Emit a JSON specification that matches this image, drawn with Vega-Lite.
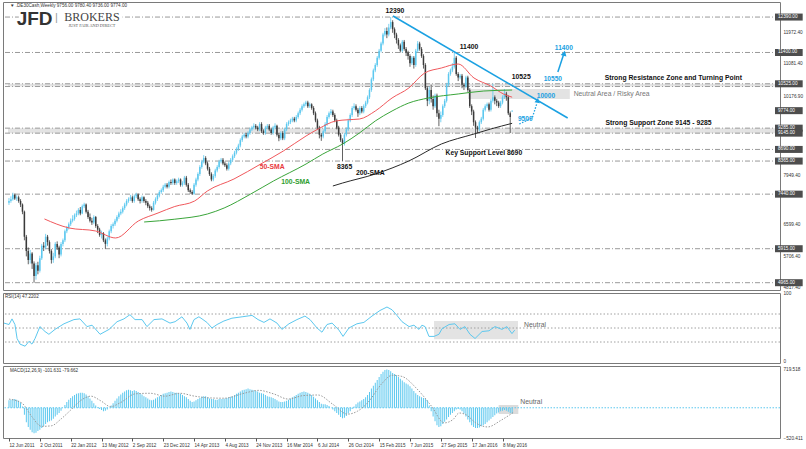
{
"$schema":"https://vega.github.io/schema/vega-lite/v6.json",
"background":"white",
"padding":{"left":1,"top":1,"right":0,"bottom":0},
"spacing":3,
"bounds":"flush",
"config":{"view":{"stroke":"#7a7a7a","strokeWidth":1},"font":"Liberation Sans","text":{"font":"Liberation Sans"},"axis":{"grid":false,"ticks":false,"domain":false,"labelFontSize":4.7,"labelColor":"#333","labelPadding":3,"labelOverlap":false,"labelBound":false,"labelFlush":false}},
"datasets":{
"bars":[
{"w":0,"o":7200,"h":7330,"l":7140,"c":7250,"m":130},{"w":1,"o":7250,"h":7380,"l":7200,"c":7300,"m":140},{"w":2,"o":7300,"h":7480,"l":7260,"c":7420,"m":150},{"w":3,"o":7420,"h":7460,"l":7280,"c":7320,"m":150},{"w":4,"o":7320,"h":7410,"l":7250,"c":7350,"m":140},{"w":5,"o":7350,"h":7400,"l":7200,"c":7250,"m":120},{"w":6,"o":7250,"h":7300,"l":7080,"c":7150,"m":90},{"w":7,"o":7150,"h":7180,"l":6880,"c":6950,"m":20},{"w":8,"o":6950,"h":6980,"l":6150,"c":6250,"m":-120},{"w":9,"o":6250,"h":6300,"l":5700,"c":5850,"m":-250},
{"w":10,"o":5850,"h":5950,"l":5480,"c":5600,"m":-330},{"w":11,"o":5600,"h":5880,"l":5500,"c":5780,"m":-380},{"w":12,"o":5780,"h":5820,"l":5350,"c":5500,"m":-420},{"w":13,"o":5500,"h":5560,"l":4965,"c":5150,"m":-440},{"w":14,"o":5150,"h":5520,"l":5050,"c":5450,"m":-430},{"w":15,"o":5450,"h":5550,"l":5200,"c":5300,"m":-400},{"w":16,"o":5300,"h":5720,"l":5250,"c":5650,"m":-380},{"w":17,"o":5650,"h":6050,"l":5600,"c":6000,"m":-350},{"w":18,"o":6000,"h":6100,"l":5850,"c":5950,"m":-320},{"w":19,"o":5950,"h":6330,"l":5900,"c":6250,"m":-280},
{"w":20,"o":6250,"h":6300,"l":6000,"c":6100,"m":-250},{"w":21,"o":6100,"h":6150,"l":5780,"c":5850,"m":-230},{"w":22,"o":5850,"h":5900,"l":5500,"c":5600,"m":-220},{"w":23,"o":5600,"h":5800,"l":5520,"c":5700,"m":-190},{"w":24,"o":5700,"h":6100,"l":5650,"c":6050,"m":-150},{"w":25,"o":6050,"h":6120,"l":5880,"c":5950,"m":-120},{"w":26,"o":5950,"h":6000,"l":5650,"c":5750,"m":-90},{"w":27,"o":5750,"h":6100,"l":5700,"c":6050,"m":-50},{"w":28,"o":6050,"h":6200,"l":5980,"c":6150,"m":0},{"w":29,"o":6150,"h":6450,"l":6100,"c":6400,"m":50},
{"w":30,"o":6400,"h":6550,"l":6350,"c":6500,"m":100},{"w":31,"o":6500,"h":6650,"l":6450,"c":6600,"m":140},{"w":32,"o":6600,"h":6760,"l":6550,"c":6700,"m":170},{"w":33,"o":6700,"h":6850,"l":6650,"c":6750,"m":200},{"w":34,"o":6750,"h":6900,"l":6700,"c":6850,"m":220},{"w":35,"o":6850,"h":6980,"l":6800,"c":6900,"m":240},{"w":36,"o":6900,"h":7050,"l":6850,"c":7000,"m":250},{"w":37,"o":7000,"h":7080,"l":6850,"c":6900,"m":260},{"w":38,"o":6900,"h":7150,"l":6880,"c":7100,"m":260},{"w":39,"o":7100,"h":7200,"l":7050,"c":7150,"m":250},
{"w":40,"o":7150,"h":7180,"l":6900,"c":6950,"m":230},{"w":41,"o":6950,"h":7000,"l":6750,"c":6800,"m":200},{"w":42,"o":6800,"h":6900,"l":6650,"c":6700,"m":160},{"w":43,"o":6700,"h":6780,"l":6580,"c":6650,"m":120},{"w":44,"o":6650,"h":6850,"l":6600,"c":6800,"m":80},{"w":45,"o":6800,"h":6830,"l":6500,"c":6550,"m":40},{"w":46,"o":6550,"h":6600,"l":6350,"c":6450,"m":10},{"w":47,"o":6450,"h":6500,"l":6250,"c":6300,"m":-20},{"w":48,"o":6300,"h":6420,"l":6200,"c":6350,"m":-40},{"w":49,"o":6350,"h":6380,"l":6100,"c":6150,"m":-60},
{"w":50,"o":6150,"h":6200,"l":5915,"c":6050,"m":-50},{"w":51,"o":6050,"h":6250,"l":5980,"c":6200,"m":-30},{"w":52,"o":6200,"h":6450,"l":6150,"c":6400,"m":0},{"w":53,"o":6400,"h":6600,"l":6350,"c":6550,"m":40},{"w":54,"o":6550,"h":6650,"l":6480,"c":6600,"m":80},{"w":55,"o":6600,"h":6750,"l":6550,"c":6700,"m":120},{"w":56,"o":6700,"h":6850,"l":6650,"c":6800,"m":160},{"w":57,"o":6800,"h":6950,"l":6750,"c":6900,"m":200},{"w":58,"o":6900,"h":7020,"l":6850,"c":6950,"m":230},{"w":59,"o":6950,"h":7100,"l":6900,"c":7050,"m":260},
{"w":60,"o":7050,"h":7200,"l":7000,"c":7150,"m":280},{"w":61,"o":7150,"h":7300,"l":7100,"c":7250,"m":300},{"w":62,"o":7250,"h":7350,"l":7200,"c":7300,"m":310},{"w":63,"o":7300,"h":7420,"l":7250,"c":7350,"m":300},{"w":64,"o":7350,"h":7400,"l":7200,"c":7250,"m":290},{"w":65,"o":7250,"h":7430,"l":7200,"c":7380,"m":300},{"w":66,"o":7380,"h":7480,"l":7330,"c":7430,"m":290},{"w":67,"o":7430,"h":7460,"l":7250,"c":7300,"m":270},{"w":68,"o":7300,"h":7350,"l":7180,"c":7250,"m":250},{"w":69,"o":7250,"h":7400,"l":7200,"c":7350,"m":230},
{"w":70,"o":7350,"h":7380,"l":7200,"c":7250,"m":200},{"w":71,"o":7250,"h":7300,"l":7130,"c":7200,"m":180},{"w":72,"o":7200,"h":7250,"l":7050,"c":7100,"m":160},{"w":73,"o":7100,"h":7150,"l":6980,"c":7050,"m":140},{"w":74,"o":7050,"h":7100,"l":6950,"c":7000,"m":130},{"w":75,"o":7000,"h":7250,"l":6980,"c":7200,"m":140},{"w":76,"o":7200,"h":7350,"l":7150,"c":7300,"m":160},{"w":77,"o":7300,"h":7450,"l":7250,"c":7400,"m":180},{"w":78,"o":7400,"h":7550,"l":7350,"c":7500,"m":200},{"w":79,"o":7500,"h":7600,"l":7450,"c":7550,"m":220},
{"w":80,"o":7550,"h":7700,"l":7500,"c":7650,"m":240},{"w":81,"o":7650,"h":7750,"l":7600,"c":7700,"m":250},{"w":82,"o":7700,"h":7750,"l":7600,"c":7650,"m":260},{"w":83,"o":7650,"h":7820,"l":7600,"c":7780,"m":270},{"w":84,"o":7780,"h":7850,"l":7700,"c":7750,"m":280},{"w":85,"o":7750,"h":7880,"l":7700,"c":7850,"m":270},{"w":86,"o":7850,"h":7880,"l":7700,"c":7750,"m":260},{"w":87,"o":7750,"h":7850,"l":7700,"c":7800,"m":260},{"w":88,"o":7800,"h":7900,"l":7750,"c":7850,"m":250},{"w":89,"o":7850,"h":7880,"l":7650,"c":7700,"m":240},
{"w":90,"o":7700,"h":7800,"l":7650,"c":7750,"m":220},{"w":91,"o":7750,"h":7950,"l":7700,"c":7900,"m":200},{"w":92,"o":7900,"h":7950,"l":7650,"c":7700,"m":180},{"w":93,"o":7700,"h":7750,"l":7500,"c":7550,"m":150},{"w":94,"o":7550,"h":7600,"l":7450,"c":7500,"m":120},{"w":95,"o":7500,"h":7550,"l":7420,"c":7450,"m":100},{"w":96,"o":7450,"h":7750,"l":7420,"c":7700,"m":110},{"w":97,"o":7700,"h":7900,"l":7650,"c":7850,"m":130},{"w":98,"o":7850,"h":8050,"l":7800,"c":8000,"m":150},{"w":99,"o":8000,"h":8250,"l":7950,"c":8200,"m":170},
{"w":100,"o":8200,"h":8400,"l":8150,"c":8350,"m":190},{"w":101,"o":8350,"h":8530,"l":8300,"c":8450,"m":200},{"w":102,"o":8450,"h":8500,"l":8250,"c":8300,"m":200},{"w":103,"o":8300,"h":8350,"l":8100,"c":8150,"m":180},{"w":104,"o":8150,"h":8200,"l":7950,"c":8000,"m":160},{"w":105,"o":8000,"h":8050,"l":7800,"c":7850,"m":150},{"w":106,"o":7850,"h":8000,"l":7800,"c":7950,"m":150},{"w":107,"o":7950,"h":8150,"l":7900,"c":8100,"m":140},{"w":108,"o":8100,"h":8250,"l":8050,"c":8200,"m":140},{"w":109,"o":8200,"h":8400,"l":8150,"c":8350,"m":150},
{"w":110,"o":8350,"h":8450,"l":8300,"c":8400,"m":150},{"w":111,"o":8400,"h":8450,"l":8250,"c":8300,"m":150},{"w":112,"o":8300,"h":8350,"l":8200,"c":8250,"m":160},{"w":113,"o":8250,"h":8300,"l":8100,"c":8150,"m":170},{"w":114,"o":8150,"h":8350,"l":8100,"c":8300,"m":180},{"w":115,"o":8300,"h":8450,"l":8250,"c":8400,"m":190},{"w":116,"o":8400,"h":8550,"l":8350,"c":8500,"m":200},{"w":117,"o":8500,"h":8650,"l":8450,"c":8600,"m":220},{"w":118,"o":8600,"h":8750,"l":8550,"c":8700,"m":240},{"w":119,"o":8700,"h":8850,"l":8650,"c":8800,"m":260},
{"w":120,"o":8800,"h":9000,"l":8750,"c":8950,"m":280},{"w":121,"o":8950,"h":9100,"l":8900,"c":9050,"m":300},{"w":122,"o":9050,"h":9150,"l":9000,"c":9100,"m":310},{"w":123,"o":9100,"h":9150,"l":9000,"c":9050,"m":320},{"w":124,"o":9050,"h":9200,"l":9000,"c":9150,"m":330},{"w":125,"o":9150,"h":9300,"l":9100,"c":9250,"m":320},{"w":126,"o":9250,"h":9350,"l":9200,"c":9300,"m":310},{"w":127,"o":9300,"h":9420,"l":9250,"c":9350,"m":300},{"w":128,"o":9350,"h":9400,"l":9250,"c":9300,"m":290},{"w":129,"o":9300,"h":9350,"l":9200,"c":9250,"m":280},
{"w":130,"o":9250,"h":9450,"l":9200,"c":9400,"m":260},{"w":131,"o":9400,"h":9450,"l":9150,"c":9200,"m":250},{"w":132,"o":9200,"h":9250,"l":9100,"c":9150,"m":240},{"w":133,"o":9150,"h":9350,"l":9100,"c":9300,"m":220},{"w":134,"o":9300,"h":9400,"l":9250,"c":9350,"m":200},{"w":135,"o":9350,"h":9400,"l":9200,"c":9250,"m":190},{"w":136,"o":9250,"h":9300,"l":9100,"c":9150,"m":180},{"w":137,"o":9150,"h":9350,"l":9100,"c":9300,"m":170},{"w":138,"o":9300,"h":9420,"l":9250,"c":9350,"m":150},{"w":139,"o":9350,"h":9380,"l":9050,"c":9100,"m":130},
{"w":140,"o":9100,"h":9150,"l":8920,"c":9000,"m":110},{"w":141,"o":9000,"h":9200,"l":8950,"c":9150,"m":100},{"w":142,"o":9150,"h":9200,"l":8950,"c":9000,"m":100},{"w":143,"o":9000,"h":9300,"l":8950,"c":9250,"m":110},{"w":144,"o":9250,"h":9450,"l":9200,"c":9400,"m":120},{"w":145,"o":9400,"h":9500,"l":9350,"c":9450,"m":140},{"w":146,"o":9450,"h":9550,"l":9400,"c":9500,"m":160},{"w":147,"o":9500,"h":9600,"l":9450,"c":9550,"m":180},{"w":148,"o":9550,"h":9600,"l":9450,"c":9500,"m":200},{"w":149,"o":9500,"h":9650,"l":9450,"c":9600,"m":220},
{"w":150,"o":9600,"h":9750,"l":9550,"c":9700,"m":240},{"w":151,"o":9700,"h":9850,"l":9650,"c":9800,"m":260},{"w":152,"o":9800,"h":9950,"l":9750,"c":9900,"m":270},{"w":153,"o":9900,"h":10000,"l":9850,"c":9950,"m":280},{"w":154,"o":9950,"h":10050,"l":9900,"c":10000,"m":270},{"w":155,"o":10000,"h":10050,"l":9850,"c":9900,"m":260},{"w":156,"o":9900,"h":10000,"l":9850,"c":9950,"m":240},{"w":157,"o":9950,"h":9980,"l":9800,"c":9850,"m":220},{"w":158,"o":9850,"h":9900,"l":9650,"c":9700,"m":190},{"w":159,"o":9700,"h":9750,"l":9450,"c":9500,"m":160},
{"w":160,"o":9500,"h":9550,"l":9250,"c":9300,"m":130},{"w":161,"o":9300,"h":9350,"l":9000,"c":9100,"m":100},{"w":162,"o":9100,"h":9150,"l":8930,"c":9050,"m":70},{"w":163,"o":9050,"h":9250,"l":9000,"c":9200,"m":60},{"w":164,"o":9200,"h":9450,"l":9150,"c":9400,"m":60},{"w":165,"o":9400,"h":9650,"l":9350,"c":9600,"m":50},{"w":166,"o":9600,"h":9750,"l":9550,"c":9700,"m":30},{"w":167,"o":9700,"h":9820,"l":9650,"c":9750,"m":0},{"w":168,"o":9750,"h":9800,"l":9600,"c":9650,"m":-30},{"w":169,"o":9650,"h":9700,"l":9450,"c":9500,"m":-60},
{"w":170,"o":9500,"h":9550,"l":9250,"c":9300,"m":-90},{"w":171,"o":9300,"h":9350,"l":9050,"c":9100,"m":-120},{"w":172,"o":9100,"h":9150,"l":8900,"c":8950,"m":-160},{"w":173,"o":8950,"h":9000,"l":8365,"c":8850,"m":-180},{"w":174,"o":8850,"h":9150,"l":8800,"c":9100,"m":-170},{"w":175,"o":9100,"h":9300,"l":9050,"c":9250,"m":-140},{"w":176,"o":9250,"h":9550,"l":9200,"c":9500,"m":-100},{"w":177,"o":9500,"h":9700,"l":9450,"c":9650,"m":-60},{"w":178,"o":9650,"h":9900,"l":9600,"c":9850,"m":-20},{"w":179,"o":9850,"h":9980,"l":9800,"c":9900,"m":20},
{"w":180,"o":9900,"h":9950,"l":9750,"c":9800,"m":60},{"w":181,"o":9800,"h":9850,"l":9600,"c":9700,"m":90},{"w":182,"o":9700,"h":9900,"l":9650,"c":9850,"m":110},{"w":183,"o":9850,"h":9900,"l":9700,"c":9750,"m":130},{"w":184,"o":9750,"h":9950,"l":9700,"c":9900,"m":150},{"w":185,"o":9900,"h":10050,"l":9850,"c":10000,"m":180},{"w":186,"o":10000,"h":10200,"l":9950,"c":10150,"m":220},{"w":187,"o":10150,"h":10400,"l":10100,"c":10350,"m":270},{"w":188,"o":10350,"h":10700,"l":10300,"c":10650,"m":330},{"w":189,"o":10650,"h":10950,"l":10600,"c":10900,"m":380},
{"w":190,"o":10900,"h":11100,"l":10850,"c":11050,"m":430},{"w":191,"o":11050,"h":11300,"l":11000,"c":11250,"m":480},{"w":192,"o":11250,"h":11500,"l":11200,"c":11450,"m":530},{"w":193,"o":11450,"h":11700,"l":11400,"c":11650,"m":580},{"w":194,"o":11650,"h":11950,"l":11600,"c":11900,"m":620},{"w":195,"o":11900,"h":12080,"l":11850,"c":12000,"m":650},{"w":196,"o":12000,"h":12100,"l":11800,"c":11900,"m":660},{"w":197,"o":11900,"h":12200,"l":11850,"c":12100,"m":650},{"w":198,"o":12100,"h":12390,"l":12050,"c":12250,"m":630},{"w":199,"o":12250,"h":12300,"l":11950,"c":12050,"m":600},
{"w":200,"o":12050,"h":12100,"l":11800,"c":11900,"m":580},{"w":201,"o":11900,"h":11950,"l":11650,"c":11750,"m":560},{"w":202,"o":11750,"h":11800,"l":11500,"c":11600,"m":530},{"w":203,"o":11600,"h":11650,"l":11400,"c":11450,"m":500},{"w":204,"o":11450,"h":11750,"l":11400,"c":11700,"m":470},{"w":205,"o":11700,"h":11750,"l":11450,"c":11500,"m":440},{"w":206,"o":11500,"h":11550,"l":11300,"c":11400,"m":420},{"w":207,"o":11400,"h":11450,"l":11200,"c":11300,"m":400},{"w":208,"o":11300,"h":11350,"l":11000,"c":11100,"m":370},{"w":209,"o":11100,"h":11300,"l":11050,"c":11250,"m":330},
{"w":210,"o":11250,"h":11300,"l":10950,"c":11050,"m":290},{"w":211,"o":11050,"h":11500,"l":11000,"c":11450,"m":250},{"w":212,"o":11450,"h":11720,"l":11400,"c":11650,"m":220},{"w":213,"o":11650,"h":11700,"l":11450,"c":11500,"m":200},{"w":214,"o":11500,"h":11550,"l":11250,"c":11300,"m":180},{"w":215,"o":11300,"h":11350,"l":10950,"c":11050,"m":170},{"w":216,"o":11050,"h":11100,"l":10350,"c":10400,"m":150},{"w":217,"o":10400,"h":10450,"l":9900,"c":10050,"m":130},{"w":218,"o":10050,"h":10450,"l":9950,"c":10350,"m":40},{"w":219,"o":10350,"h":10500,"l":10000,"c":10100,"m":-60},
{"w":220,"o":10100,"h":10200,"l":9800,"c":9900,"m":-150},{"w":221,"o":9900,"h":10250,"l":9850,"c":10200,"m":-230},{"w":222,"o":10200,"h":10250,"l":9600,"c":9700,"m":-300},{"w":223,"o":9700,"h":9800,"l":9340,"c":9550,"m":-330},{"w":224,"o":9550,"h":9750,"l":9450,"c":9650,"m":-320},{"w":225,"o":9650,"h":9950,"l":9600,"c":9900,"m":-280},{"w":226,"o":9900,"h":10100,"l":9850,"c":10050,"m":-240},{"w":227,"o":10050,"h":10550,"l":10000,"c":10500,"m":-200},{"w":228,"o":10500,"h":10850,"l":10450,"c":10800,"m":-160},{"w":229,"o":10800,"h":10950,"l":10750,"c":10900,"m":-120},
{"w":230,"o":10900,"h":11100,"l":10850,"c":11000,"m":-90},{"w":231,"o":11000,"h":11400,"l":10950,"c":11250,"m":-60},{"w":232,"o":11250,"h":11300,"l":10750,"c":10800,"m":-30},{"w":233,"o":10800,"h":10850,"l":10600,"c":10700,"m":-20},{"w":234,"o":10700,"h":10800,"l":10650,"c":10750,"m":-30},{"w":235,"o":10750,"h":10800,"l":10400,"c":10500,"m":-60},{"w":236,"o":10500,"h":10550,"l":10350,"c":10450,"m":-100},{"w":237,"o":10450,"h":10750,"l":10400,"c":10700,"m":-150},{"w":238,"o":10700,"h":10750,"l":10300,"c":10350,"m":-200},{"w":239,"o":10350,"h":10400,"l":9850,"c":9900,"m":-250},
{"w":240,"o":9900,"h":9950,"l":9650,"c":9750,"m":-300},{"w":241,"o":9750,"h":9800,"l":9350,"c":9450,"m":-330},{"w":242,"o":9450,"h":9500,"l":9010,"c":9300,"m":-350},{"w":243,"o":9300,"h":9350,"l":9150,"c":9250,"m":-350},{"w":244,"o":9250,"h":9500,"l":9200,"c":9450,"m":-340},{"w":245,"o":9450,"h":9600,"l":9400,"c":9550,"m":-320},{"w":246,"o":9550,"h":9850,"l":9500,"c":9800,"m":-300},{"w":247,"o":9800,"h":9950,"l":9750,"c":9900,"m":-280},{"w":248,"o":9900,"h":10000,"l":9850,"c":9950,"m":-250},{"w":249,"o":9950,"h":10000,"l":9750,"c":9800,"m":-220},
{"w":250,"o":9800,"h":10100,"l":9750,"c":10050,"m":-190},{"w":251,"o":10050,"h":10525,"l":10000,"c":10150,"m":-160},{"w":252,"o":10150,"h":10200,"l":9950,"c":10050,"m":-130},{"w":253,"o":10050,"h":10100,"l":9900,"c":10000,"m":-100},{"w":254,"o":10000,"h":10050,"l":9850,"c":9900,"m":-80},{"w":255,"o":9900,"h":10050,"l":9850,"c":10000,"m":-60},{"w":256,"o":10000,"h":10200,"l":9950,"c":10150,"m":-50},{"w":257,"o":10150,"h":10380,"l":10100,"c":10250,"m":-40},{"w":258,"o":10250,"h":10300,"l":10050,"c":10150,"m":-50},{"w":259,"o":10150,"h":10200,"l":9650,"c":9700,"m":-70},
{"w":260,"o":9700,"h":9750,"l":9150,"c":9600,"m":-90},{"w":261,"o":9756,"h":9780,"l":9736,"c":9774,"m":-100}
],
"sma":[
{"s":"50","w":18.4,"v":6746},{"s":"50","w":31.2,"v":6494},{"s":"50","w":45,"v":6410},{"s":"50","w":55.3,"v":6215},{"s":"50","w":67.1,"v":6690},{"s":"50","w":77.3,"v":6913},{"s":"50","w":86,"v":7095},{"s":"50","w":96.3,"v":7249},{"s":"50","w":102.9,"v":7528},{"s":"50","w":116.7,"v":7864},{"s":"50","w":130.6,"v":8283},{"s":"50","w":142.3,"v":8646},{"s":"50","w":154.1,"v":9066},{"s":"50","w":161.3,"v":9289},{"s":"50","w":169.5,"v":9485},{"s":"50","w":176,"v":9520},{"s":"50","w":181.8,"v":9540},{"s":"50","w":190,"v":9764},{"s":"50","w":198.7,"v":10128},{"s":"50","w":207.4,"v":10407},{"s":"50","w":215.6,"v":10826},{"s":"50","w":224.3,"v":10966},{"s":"50","w":233,"v":11078},{"s":"50","w":241.2,"v":10687},{"s":"50","w":249.9,"v":10463},{"s":"50","w":256.5,"v":10240},{"s":"50","w":261,"v":10150},
{"s":"100","w":70.1,"v":6662},{"s":"100","w":86,"v":6740},{"s":"100","w":102.9,"v":6885},{"s":"100","w":111.6,"v":7053},{"s":"100","w":125.4,"v":7444},{"s":"100","w":137.2,"v":7808},{"s":"100","w":154.1,"v":8283},{"s":"100","w":162.8,"v":8562},{"s":"100","w":173.1,"v":8842},{"s":"100","w":181.8,"v":9150},{"s":"100","w":190,"v":9485},{"s":"100","w":198.7,"v":9764},{"s":"100","w":207.4,"v":9988},{"s":"100","w":217.6,"v":10128},{"s":"100","w":233,"v":10240},{"s":"100","w":246.3,"v":10323},{"s":"100","w":261,"v":10350},
{"s":"200","w":168,"v":7668},{"s":"200","w":173.1,"v":7752},{"s":"200","w":190,"v":8003},{"s":"200","w":207.4,"v":8367},{"s":"200","w":224.3,"v":8842},{"s":"200","w":241.2,"v":9121},{"s":"200","w":249.9,"v":9261},{"s":"200","w":261,"v":9420}
],
"rsi":[
{"w":0,"r":57},{"w":2.6,"r":55},{"w":4.1,"r":63},{"w":5.6,"r":55},{"w":6.7,"r":35},{"w":8.2,"r":27},{"w":10.8,"r":24},{"w":12.8,"r":31},{"w":14.3,"r":27},{"w":15.9,"r":35},{"w":18.4,"r":52},{"w":21,"r":45},{"w":23,"r":41},{"w":26.1,"r":48},{"w":30.7,"r":56},{"w":35.8,"r":62},{"w":38.9,"r":63},{"w":42.5,"r":52},{"w":45.1,"r":54},{"w":49.2,"r":41},{"w":53.8,"r":48},{"w":57.9,"r":59},{"w":61.4,"r":63},{"w":64.5,"r":69},{"w":67.1,"r":62},{"w":70.7,"r":62},{"w":73.2,"r":52},{"w":76.8,"r":62},{"w":80.9,"r":63},{"w":85,"r":57},{"w":87.6,"r":59},{"w":91.1,"r":66},{"w":93.7,"r":57},{"w":95.2,"r":48},{"w":97.3,"r":62},{"w":99.8,"r":66},{"w":101.4,"r":63},{"w":103.9,"r":58},{"w":106.5,"r":50},{"w":109.1,"r":55},{"w":112.6,"r":60},{"w":116.7,"r":64},{"w":121.9,"r":66},{"w":127,"r":68},{"w":130.1,"r":62},{"w":133.1,"r":58},{"w":136.2,"r":63},{"w":139.8,"r":57},{"w":142.3,"r":48},{"w":145.9,"r":56},{"w":150,"r":62},{"w":154.1,"r":67},{"w":156.7,"r":62},{"w":160.3,"r":50},{"w":162.8,"r":44},{"w":165.4,"r":55},{"w":168,"r":57},{"w":171.5,"r":47},{"w":173.6,"r":38},{"w":176.6,"r":50},{"w":180.7,"r":56},{"w":184.3,"r":58},{"w":188.4,"r":67},{"w":192.5,"r":75},{"w":196.1,"r":80},{"w":198.7,"r":76},{"w":201.2,"r":68},{"w":203.8,"r":59},{"w":207.4,"r":52},{"w":209.9,"r":54},{"w":212.5,"r":48},{"w":214,"r":54},{"w":215.6,"r":52},{"w":217.6,"r":38},{"w":220.2,"r":38},{"w":222.7,"r":41},{"w":224.3,"r":49},{"w":227.9,"r":55},{"w":230.9,"r":56},{"w":233.5,"r":48},{"w":236,"r":52},{"w":238.6,"r":41},{"w":241.2,"r":35},{"w":244.8,"r":45},{"w":248.3,"r":46},{"w":251.4,"r":52},{"w":255,"r":48},{"w":257.5,"r":52},{"w":260.1,"r":42},{"w":261.5,"r":47}
],
"sig":[
{"w":0,"v":150},{"w":6.7,"v":80},{"w":11.8,"v":-150},{"w":16.9,"v":-320},{"w":22,"v":-310},{"w":27.1,"v":-190},{"w":32.3,"v":-30},{"w":37.4,"v":130},{"w":42.5,"v":200},{"w":47.6,"v":120},{"w":52.7,"v":20},{"w":57.9,"v":90},{"w":65.5,"v":240},{"w":73.2,"v":250},{"w":80.9,"v":200},{"w":88.6,"v":250},{"w":96.3,"v":200},{"w":103.9,"v":170},{"w":111.6,"v":165},{"w":121.9,"v":250},{"w":129.5,"v":300},{"w":137.2,"v":240},{"w":144.9,"v":150},{"w":152.6,"v":210},{"w":160.3,"v":220},{"w":168,"v":60},{"w":175.6,"v":-110},{"w":180.7,"v":-60},{"w":185.9,"v":80},{"w":193.5,"v":420},{"w":198.7,"v":560},{"w":203.8,"v":540},{"w":211.5,"v":330},{"w":219.1,"v":30},{"w":225.8,"v":-260},{"w":230.4,"v":-200},{"w":233.5,"v":-90},{"w":237.1,"v":-120},{"w":242.1,"v":-260},{"w":248.3,"v":-330},{"w":255,"v":-220},{"w":261.6,"v":-80}
],
"lvl":[{"v":12390},{"v":11400},{"v":10525},{"v":10450},{"v":9285},{"v":9145},{"v":8690},{"v":8365},{"v":7440},{"v":5915},{"v":4965}],
"px":[{"v":12390},{"v":11400},{"v":10525},{"v":9774},{"v":9285},{"v":9145},{"v":8690},{"v":8365},{"v":7440},{"v":5915},{"v":4965}]
},
"vconcat":[
{"width":777,"height":288,
"layer":[
{"data":{"values":[{"a":9145,"b":9285},{"a":10450,"b":10525}]},"mark":{"type":"rect","color":"#e3e3e3"},
"encoding":{"x":{"datum":-0.51,"type":"quantitative","scale":{"domain":[-0.51,397.34],"nice":false,"zero":false},"axis":null},"x2":{"datum":397.34},"y":{"field":"a","type":"quantitative","scale":{"domain":[4761,12811],"nice":false,"zero":false}},"y2":{"field":"b"}}},
{"data":{"values":[{"w1":238.1,"w2":290.9,"a":10100,"b":10379}]},"mark":{"type":"rect","color":"#e3e3e3"},
"encoding":{"x":{"field":"w1","type":"quantitative","scale":{"domain":[-0.51,397.34],"nice":false,"zero":false},"axis":null},"x2":{"field":"w2"},"y":{"field":"a","type":"quantitative","scale":{"domain":[4761,12811],"nice":false,"zero":false}},"y2":{"field":"b"}}},
{"data":{"name":"lvl"},"mark":{"type":"rule","color":"#9a9a9a","strokeWidth":1,"strokeDash":[5,2,1,2]},
"encoding":{"y":{"field":"v","type":"quantitative","scale":{"domain":[4761,12811],"nice":false,"zero":false},
"axis":{"orient":"right","title":null,"values":[4817.4,5262.9,5706.4,6153.9,6599.4,7044.9,7949.4,8840.4,10176.9,10633.4,11081.4,11528.9,11972.4],"format":".2f","labelFontSize":4.7,"labelColor":"#333","ticks":false,"domain":false,"grid":false,"labelPadding":3}}}},
{"data":{"name":"bars"},"mark":{"type":"rule","strokeWidth":0.8},
"encoding":{"x":{"field":"w","type":"quantitative","scale":{"domain":[-0.51,397.34],"nice":false,"zero":false},"axis":null},"y":{"field":"l","type":"quantitative","scale":{"domain":[4761,12811],"nice":false,"zero":false}},"y2":{"field":"h"},
"color":{"condition":{"test":"datum.c >= datum.o","value":"#5cc8ef"},"value":"#3a3a3a"}}},
{"data":{"name":"bars"},"mark":{"type":"bar","size":1.5},
"encoding":{"x":{"field":"w","type":"quantitative","scale":{"domain":[-0.51,397.34],"nice":false,"zero":false},"axis":null},"y":{"field":"o","type":"quantitative","scale":{"domain":[4761,12811],"nice":false,"zero":false}},"y2":{"field":"c"},
"color":{"condition":{"test":"datum.c >= datum.o","value":"#5cc8ef"},"value":"#3a3a3a"}}},
{"data":{"name":"sma"},"mark":{"type":"line","strokeWidth":1,"interpolate":"monotone"},
"encoding":{"x":{"field":"w","type":"quantitative","scale":{"domain":[-0.51,397.34],"nice":false,"zero":false},"axis":null},"y":{"field":"v","type":"quantitative","scale":{"domain":[4761,12811],"nice":false,"zero":false}},
"color":{"field":"s","type":"nominal","scale":{"domain":["50","100","200"],"range":["#f0585c","#3aa53a","#2a2a2a"]},"legend":null}}},
{"data":{"values":[{"w":199.2,"v":12419},{"w":289.8,"v":9569}]},"mark":{"type":"line","color":"#1ba1e2","strokeWidth":1.6},
"encoding":{"x":{"field":"w","type":"quantitative","scale":{"domain":[-0.51,397.34],"nice":false,"zero":false},"axis":null},"y":{"field":"v","type":"quantitative","scale":{"domain":[4761,12811],"nice":false,"zero":false}}}},
{"data":{"values":[{"w":284.7,"v":10854},{"w":287.6,"v":11330}]},"mark":{"type":"line","color":"#1ba1e2","strokeWidth":1.5},
"encoding":{"x":{"field":"w","type":"quantitative","scale":{"domain":[-0.51,397.34],"nice":false,"zero":false},"axis":null},"y":{"field":"v","type":"quantitative","scale":{"domain":[4761,12811],"nice":false,"zero":false}}}},
{"data":{"values":[{"w":264.7,"v":9401},{"w":271.4,"v":9569},{"w":273.9,"v":9988}]},"mark":{"type":"line","color":"#1ba1e2","strokeWidth":1.3,"strokeDash":[1.5,1.5]},
"encoding":{"x":{"field":"w","type":"quantitative","scale":{"domain":[-0.51,397.34],"nice":false,"zero":false},"axis":null},"y":{"field":"v","type":"quantitative","scale":{"domain":[4761,12811],"nice":false,"zero":false}}}},
{"data":{"values":[{"w":288,"v":11380}]},"mark":{"type":"point","shape":"triangle-up","filled":true,"color":"#1ba1e2","size":35,"angle":15,"opacity":1},
"encoding":{"x":{"field":"w","type":"quantitative","scale":{"domain":[-0.51,397.34],"nice":false,"zero":false},"axis":null},"y":{"field":"v","type":"quantitative","scale":{"domain":[4761,12811],"nice":false,"zero":false}}}},
{"data":{"values":[{"w":274.2,"v":10060}]},"mark":{"type":"point","shape":"triangle-up","filled":true,"color":"#1ba1e2","size":30,"angle":10,"opacity":1},
"encoding":{"x":{"field":"w","type":"quantitative","scale":{"domain":[-0.51,397.34],"nice":false,"zero":false},"axis":null},"y":{"field":"v","type":"quantitative","scale":{"domain":[4761,12811],"nice":false,"zero":false}}}},
{"data":{"values":[{"w":200.2,"v":12559,"t":"12390"},{"w":238.6,"v":11553,"t":"11400"},{"w":265.7,"v":10715,"t":"10525"},{"w":174.1,"v":8199,"t":"8365"},{"w":246.3,"v":8590,"t":"Key Support Level 8690"},{"w":187.4,"v":8031,"t":"200-SMA"},{"w":344.6,"v":10687,"t":"Strong Resistance Zone and Turning Point"},{"w":336.9,"v":9429,"t":"Strong Support Zone 9145 - 9285"}]},
"mark":{"type":"text","fontSize":6.8,"fontWeight":"bold","color":"#111","align":"center","baseline":"middle"},
"encoding":{"x":{"field":"w","type":"quantitative","scale":{"domain":[-0.51,397.34],"nice":false,"zero":false},"axis":null},"y":{"field":"v","type":"quantitative","scale":{"domain":[4761,12811],"nice":false,"zero":false}},"text":{"field":"t"}}},
{"data":{"values":[{"w":136.5,"v":8199,"t":"50-SMA"}]},"mark":{"type":"text","fontSize":6.8,"fontWeight":"bold","color":"#e8383d","align":"center","baseline":"middle"},
"encoding":{"x":{"field":"w","type":"quantitative","scale":{"domain":[-0.51,397.34],"nice":false,"zero":false},"axis":null},"y":{"field":"v","type":"quantitative","scale":{"domain":[4761,12811],"nice":false,"zero":false}},"text":{"field":"t"}}},
{"data":{"values":[{"w":148.7,"v":7780,"t":"100-SMA"}]},"mark":{"type":"text","fontSize":6.8,"fontWeight":"bold","color":"#2e9e2e","align":"center","baseline":"middle"},
"encoding":{"x":{"field":"w","type":"quantitative","scale":{"domain":[-0.51,397.34],"nice":false,"zero":false},"axis":null},"y":{"field":"v","type":"quantitative","scale":{"domain":[4761,12811],"nice":false,"zero":false}},"text":{"field":"t"}}},
{"data":{"values":[{"w":292.9,"v":10240,"t":"Neutral Area  /  Risky Area"}]},"mark":{"type":"text","fontSize":6.8,"color":"#777","align":"left","baseline":"middle"},
"encoding":{"x":{"field":"w","type":"quantitative","scale":{"domain":[-0.51,397.34],"nice":false,"zero":false},"axis":null},"y":{"field":"v","type":"quantitative","scale":{"domain":[4761,12811],"nice":false,"zero":false}},"text":{"field":"t"}}},
{"data":{"values":[{"w":287.8,"v":11525,"t":"11400"},{"w":282.1,"v":10659,"t":"10550"},{"w":278.5,"v":10184,"t":"10000"},{"w":267.8,"v":9541,"t":"9500"}]},"mark":{"type":"text","fontSize":6.6,"fontWeight":"bold","color":"#1ba1e2","align":"center","baseline":"middle"},
"encoding":{"x":{"field":"w","type":"quantitative","scale":{"domain":[-0.51,397.34],"nice":false,"zero":false},"axis":null},"y":{"field":"v","type":"quantitative","scale":{"domain":[4761,12811],"nice":false,"zero":false}},"text":{"field":"t"}}},
{"data":{"values":[{"w1":5.1,"w2":58.9,"a":12028,"b":12615}]},"mark":{"type":"rect","color":"white"},
"encoding":{"x":{"field":"w1","type":"quantitative","scale":{"domain":[-0.51,397.34],"nice":false,"zero":false},"axis":null},"x2":{"field":"w2"},"y":{"field":"a","type":"quantitative","scale":{"domain":[4761,12811],"nice":false,"zero":false}},"y2":{"field":"b"}}},
{"data":{"values":[{"w":13.3,"v":12322,"t":"JFD"}]},"mark":{"type":"text","fontSize":19,"fontWeight":"bold","color":"#333","align":"center","baseline":"middle","font":"Liberation Sans"},
"encoding":{"x":{"field":"w","type":"quantitative","scale":{"domain":[-0.51,397.34],"nice":false,"zero":false},"axis":null},"y":{"field":"v","type":"quantitative","scale":{"domain":[4761,12811],"nice":false,"zero":false}},"text":{"field":"t"}}},
{"data":{"values":[{"w":24.6,"v":12350,"t":"|"}]},"mark":{"type":"text","fontSize":11,"color":"#999","align":"center","baseline":"middle"},
"encoding":{"x":{"field":"w","type":"quantitative","scale":{"domain":[-0.51,397.34],"nice":false,"zero":false},"axis":null},"y":{"field":"v","type":"quantitative","scale":{"domain":[4761,12811],"nice":false,"zero":false}},"text":{"field":"t"}}},
{"data":{"values":[{"w":43,"v":12400,"t":"BROKERS"}]},"mark":{"type":"text","fontSize":12,"color":"#444","align":"center","baseline":"middle","font":"Liberation Serif"},
"encoding":{"x":{"field":"w","type":"quantitative","scale":{"domain":[-0.51,397.34],"nice":false,"zero":false},"axis":null},"y":{"field":"v","type":"quantitative","scale":{"domain":[4761,12811],"nice":false,"zero":false}},"text":{"field":"t"}}},
{"data":{"values":[{"w":43,"v":12140,"t":"JUST FAIR AND DIRECT"}]},"mark":{"type":"text","fontSize":4.3,"color":"#555","align":"center","baseline":"middle","font":"Liberation Serif","letterSpacing":0.5},
"encoding":{"x":{"field":"w","type":"quantitative","scale":{"domain":[-0.51,397.34],"nice":false,"zero":false},"axis":null},"y":{"field":"v","type":"quantitative","scale":{"domain":[4761,12811],"nice":false,"zero":false}},"text":{"field":"t"}}},
{"data":{"values":[{"w":0.5,"v":12713,"t":"▼ .DE30Cash,Weekly  9756.00 9780.40 9736.00 9774.00"}]},"mark":{"type":"text","fontSize":4.6,"color":"#333","align":"left","baseline":"middle"},
"encoding":{"x":{"field":"w","type":"quantitative","scale":{"domain":[-0.51,397.34],"nice":false,"zero":false},"axis":null},"y":{"field":"v","type":"quantitative","scale":{"domain":[4761,12811],"nice":false,"zero":false}},"text":{"field":"t"}}},
{"data":{"name":"px"},"mark":{"type":"rect","color":"#4d4d4d","yOffset":-3.5,"y2Offset":3.5},
"encoding":{"x":{"datum":397.34,"type":"quantitative","scale":{"domain":[-0.51,397.34],"nice":false,"zero":false},"axis":null},"x2":{"datum":411.7},"y":{"field":"v","type":"quantitative","scale":{"domain":[4761,12811],"nice":false,"zero":false}},"y2":{"field":"v"}}},
{"data":{"name":"px"},"mark":{"type":"text","fontSize":4.7,"color":"white","align":"left","baseline":"middle","dx":3},
"encoding":{"x":{"datum":397.34,"type":"quantitative","scale":{"domain":[-0.51,397.34],"nice":false,"zero":false},"axis":null},"y":{"field":"v","type":"quantitative","scale":{"domain":[4761,12811],"nice":false,"zero":false}},"text":{"field":"v","format":".2f"}}}
]},
{"width":777,"height":70,
"layer":[
{"data":{"values":[{"w1":220.2,"w2":263.2,"a":34,"b":60}]},"mark":{"type":"rect","color":"#e3e3e3"},
"encoding":{"x":{"field":"w1","type":"quantitative","scale":{"domain":[-0.51,397.34],"nice":false,"zero":false},"axis":null},"x2":{"field":"w2"},"y":{"field":"a","type":"quantitative","scale":{"domain":[0,100],"nice":false,"zero":false}},"y2":{"field":"b"}}},
{"data":{"values":[{"v":30},{"v":50},{"v":70}]},"mark":{"type":"rule","color":"#a0a0a0","strokeWidth":1,"strokeDash":[1.5,2]},
"encoding":{"y":{"field":"v","type":"quantitative","scale":{"domain":[0,100],"nice":false,"zero":false},
"axis":{"orient":"right","title":null,"values":[0,30,50,70,100],"format":"d","labelFontSize":4.7,"labelColor":"#333","ticks":false,"domain":false,"grid":false,"labelPadding":3,"labelBaseline":{"condition":{"test":"datum.value == 0","value":"bottom"},"value":"middle"}}}}},
{"data":{"name":"rsi"},"mark":{"type":"line","color":"#5cc8ef","strokeWidth":1},
"encoding":{"x":{"field":"w","type":"quantitative","scale":{"domain":[-0.51,397.34],"nice":false,"zero":false},"axis":null},"y":{"field":"r","type":"quantitative","scale":{"domain":[0,100],"nice":false,"zero":false}}}},
{"data":{"values":[{"w":266.3,"r":54.3,"t":"Neutral"}]},"mark":{"type":"text","fontSize":6.8,"color":"#666","align":"left","baseline":"middle"},
"encoding":{"x":{"field":"w","type":"quantitative","scale":{"domain":[-0.51,397.34],"nice":false,"zero":false},"axis":null},"y":{"field":"r","type":"quantitative","scale":{"domain":[0,100],"nice":false,"zero":false}},"text":{"field":"t"}}},
{"data":{"values":[{"w":0.5,"r":94,"t":"RSI(14) 47.2202"}]},"mark":{"type":"text","fontSize":4.6,"color":"#333","align":"left","baseline":"middle"},
"encoding":{"x":{"field":"w","type":"quantitative","scale":{"domain":[-0.51,397.34],"nice":false,"zero":false},"axis":null},"y":{"field":"r","type":"quantitative","scale":{"domain":[0,100],"nice":false,"zero":false}},"text":{"field":"t"}}}
]},
{"width":777,"height":72,
"layer":[
{"data":{"values":[{"w1":254,"w2":264.2,"a":-107,"b":48}]},"mark":{"type":"rect","color":"#dcdcdc"},
"encoding":{"x":{"field":"w1","type":"quantitative","scale":{"domain":[-0.51,397.34],"nice":false,"zero":false}},"x2":{"field":"w2"},"y":{"field":"a","type":"quantitative","scale":{"domain":[-520.411,719.518],"nice":false,"zero":false}},"y2":{"field":"b"}}},
{"data":{"name":"bars"},"mark":{"type":"bar","size":1,"color":"#5cc8ef"},
"encoding":{"x":{"field":"w","type":"quantitative","scale":{"domain":[-0.51,397.34],"nice":false,"zero":false},
"axis":{"title":null,"values":[0,16,32,48,64,80,96,112,128,144,160,176,192,208,224,240,256],"labelExpr":"timeFormat(datetime(2011,5,12+datum.value*7),'%-d %b %Y')","labelAlign":"left","labelDx":1,"labelFontSize":4.6,"labelColor":"#333","ticks":true,"tickSize":3,"tickColor":"#555","domain":false,"grid":false,"labelPadding":1}},
"y":{"field":"m","type":"quantitative","scale":{"domain":[-520.411,719.518],"nice":false,"zero":false},
"axis":{"orient":"right","title":null,"values":[-520.411,0,719.518],"labelExpr":"datum.value == 0 ? '0.00' : format(datum.value, '.3f')","labelFontSize":4.7,"labelColor":"#333","ticks":false,"domain":false,"grid":false,"labelPadding":3,"labelBaseline":{"condition":{"test":"datum.value > 700","value":"top"},"value":"middle"}}}}},
{"data":{"values":[{"v":0}]},"mark":{"type":"rule","color":"#5cc8ef","strokeWidth":1,"strokeDash":[1.5,1.5]},
"encoding":{"y":{"field":"v","type":"quantitative","scale":{"domain":[-520.411,719.518],"nice":false,"zero":false}}}},
{"data":{"name":"sig"},"mark":{"type":"line","color":"#999","strokeWidth":1,"strokeDash":[1.5,1.5],"interpolate":"monotone"},
"encoding":{"x":{"field":"w","type":"quantitative","scale":{"domain":[-0.51,397.34],"nice":false,"zero":false}},"y":{"field":"v","type":"quantitative","scale":{"domain":[-520.411,719.518],"nice":false,"zero":false}}}},
{"data":{"values":[{"w":265.2,"v":100,"t":"Neutral"}]},"mark":{"type":"text","fontSize":6.8,"color":"#666","align":"left","baseline":"middle"},
"encoding":{"x":{"field":"w","type":"quantitative","scale":{"domain":[-0.51,397.34],"nice":false,"zero":false}},"y":{"field":"v","type":"quantitative","scale":{"domain":[-520.411,719.518],"nice":false,"zero":false}},"text":{"field":"t"}}},
{"data":{"values":[{"w":0.5,"v":634,"t":"MACD(12,26,9) -101.631 -79.662"}]},"mark":{"type":"text","fontSize":4.6,"color":"#333","align":"left","baseline":"middle"},
"encoding":{"x":{"field":"w","type":"quantitative","scale":{"domain":[-0.51,397.34],"nice":false,"zero":false}},"y":{"field":"v","type":"quantitative","scale":{"domain":[-520.411,719.518],"nice":false,"zero":false}},"text":{"field":"t"}}}
]}
]
}
